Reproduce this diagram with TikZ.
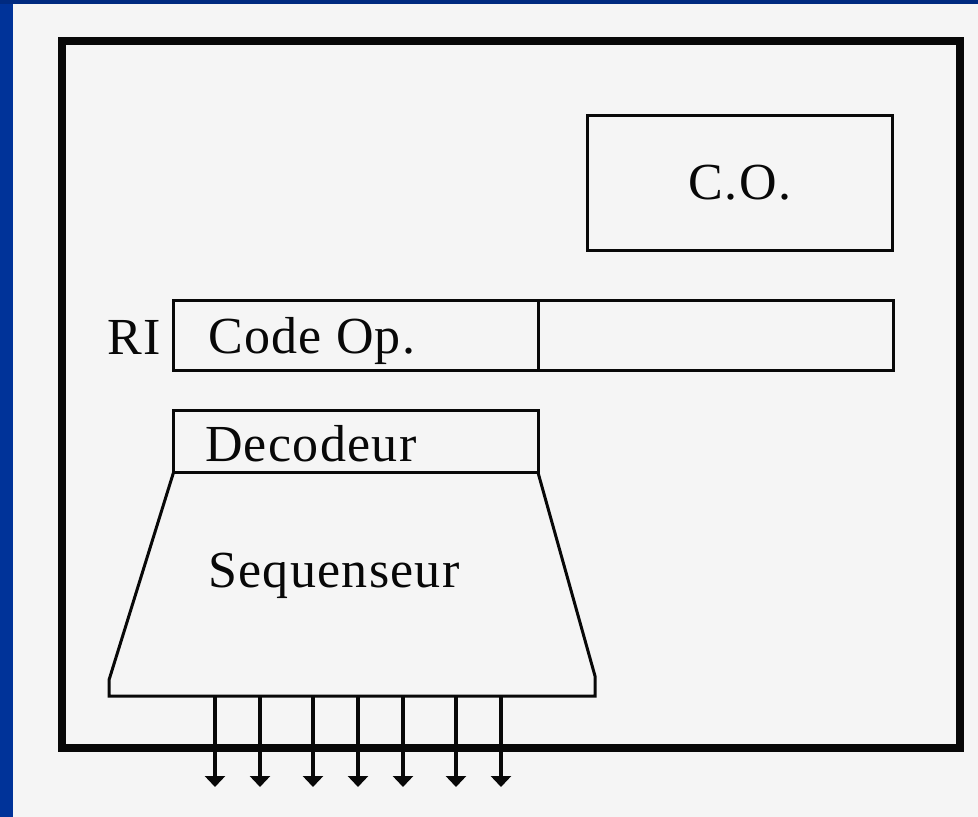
\documentclass[tikz,border=0pt]{standalone}
\usepackage{fontspec}
\setmainfont{Liberation Serif}[LetterSpace=2.5]
\usetikzlibrary{arrows.meta,positioning}
\definecolor{slideBlue}{RGB}{0,51,153}
\definecolor{slideBlueTop}{RGB}{0,42,128}
\definecolor{slideGray}{RGB}{245,245,245}
\definecolor{ink}{RGB}{8,8,8}

\begin{document}
\begin{tikzpicture}[
    x=1pt, y=-1pt,
    font=\fontsize{52}{60}\selectfont,
    frame/.style={draw=ink, line width=8pt},
    unitBox/.style={rectangle, draw=ink, line width=3pt, inner sep=0pt, outer sep=0pt, text=ink},
    wire/.style={draw=ink, line width=3pt},
    signal/.style={-{Triangle[width=20pt, length=11pt]}, line width=3.4pt, draw=ink},
    unitLabel/.style={text=ink, inner sep=0pt}
]

% Slide background
\fill[slideGray] (0,0) rectangle (978,817);
\fill[slideBlue] (0,0) rectangle (13,817);
\fill[slideBlueTop] (0,0) rectangle (978,4);
\useasboundingbox (0,0) rectangle (978,817);

% Processor frame
\draw[frame] (62,41) rectangle (960,747.5);

% Ordinal counter
\node[unitBox, minimum width=305.5pt, minimum height=134.5pt] (co) at (740,183) {C.O.};

% Instruction register
\node[unitBox, minimum width=364.5pt, minimum height=70pt] (riCode) at (355.75,335) {};
\node[unitBox, minimum width=355pt, minimum height=70pt, anchor=west] (riAddr) at (riCode.east) {};
\node[unitLabel, anchor=base west] (codeOp) at (208,353) {Code Op.};
\node[unitLabel, anchor=base west] (riLabel) at (107,354) {RI};

% Decoder
\node[unitBox, minimum width=364.5pt, minimum height=62.5pt] (decoder) at (355.75,441.25) {};
\node[unitLabel, anchor=base west] (decLabel) at (205,461) {Decodeur};

% Sequencer
\draw[wire] (decoder.south west) -- (109,680) -- (109,696) -- (595,696) -- (595,676) -- (decoder.south east);
\node[unitLabel, anchor=base west] (seqLabel) at (208,587) {Sequenseur};

% Control signals
\foreach \x [count=\i] in {215,260,313,358,403,456,501} {
    \coordinate (src\i) at (\x,696);
    \coordinate (out\i) at (\x,787);
    \draw[signal] (src\i) -- (out\i);
}

\end{tikzpicture}
\end{document}
